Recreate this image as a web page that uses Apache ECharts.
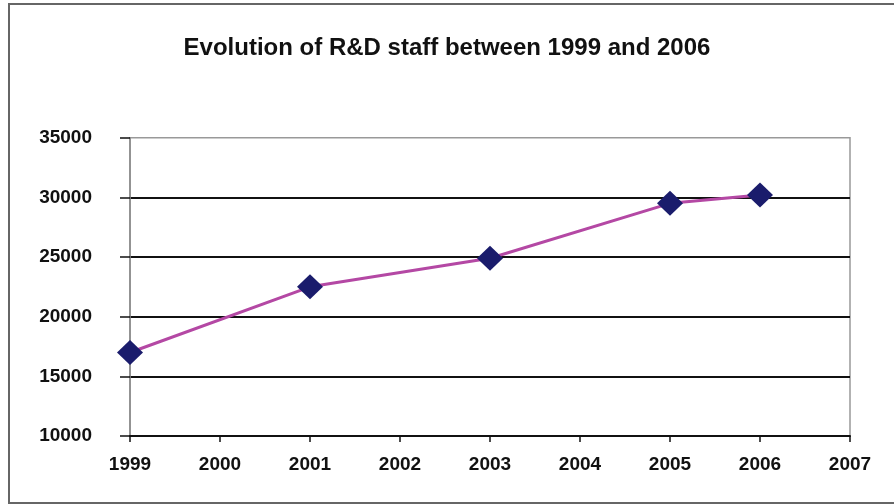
<!DOCTYPE html>
<html>
<head>
<meta charset="utf-8">
<script src="https://cdn.jsdelivr.net/npm/echarts@6/dist/echarts.min.js"></script>
<style>
html,body{margin:0;padding:0;background:#fff;}
#chart{width:894px;height:504px;}
</style>
</head>
<body>
<div id="chart"></div>
<script>
var titleText = 'Evolution of R&D staff between 1999 and 2006';
var years = [1999, 2001, 2003, 2005, 2006];
var staff = [17000, 22500, 24900, 29500, 30200];
var xMin = 1999, xMax = 2007, xStep = 1;
var yMin = 10000, yMax = 35000, yStep = 5000;

var seriesData = years.map(function (y, i) { return [y, staff[i]]; });

var chart = echarts.init(document.getElementById('chart'));
chart.setOption({
  animation: false,
  backgroundColor: '#fff',
  title: {
    text: titleText,
    left: 'center',
    top: 31,
    textStyle: { fontFamily: 'Liberation Sans, Arial, sans-serif', fontWeight: 'bold', fontSize: 24, color: '#111' }
  },
  graphic: [{
    type: 'rect',
    shape: { x: 9, y: 4, width: 900, height: 499 },
    style: { fill: 'none', stroke: '#666', lineWidth: 2 },
    silent: true
  }],
  grid: {
    left: 130, right: 44, top: 137.7, bottom: 68,
    show: true, borderColor: '#999', borderWidth: 1.5, backgroundColor: 'transparent'
  },
  xAxis: {
    type: 'value',
    min: xMin, max: xMax, interval: xStep,
    axisLine: { show: true, onZero: false, lineStyle: { color: '#111', width: 2 } },
    axisTick: { show: true, length: 6, lineStyle: { color: '#111', width: 1.5 } },
    axisLabel: {
      margin: 19,
      formatter: function (v) { return String(v); },
      fontFamily: 'Liberation Sans, Arial, sans-serif', fontWeight: 'bold', fontSize: 19, color: '#111'
    },
    splitLine: { show: false }
  },
  yAxis: {
    type: 'value',
    min: yMin, max: yMax, interval: yStep,
    axisLine: { show: true, lineStyle: { color: '#888', width: 1.5 } },
    axisTick: { show: true, length: 10, lineStyle: { color: '#111', width: 1.5 } },
    axisLabel: {
      margin: 38,
      formatter: function (v) { return String(v); },
      fontFamily: 'Liberation Sans, Arial, sans-serif', fontWeight: 'bold', fontSize: 19, color: '#111'
    },
    splitLine: { show: true, showMaxLine: false, showMinLine: false, lineStyle: { color: '#111', width: 2 } }
  },
  series: [{
    type: 'line',
    data: seriesData,
    symbol: 'diamond',
    symbolSize: [26, 25],
    itemStyle: { color: '#1a1c6c' },
    lineStyle: { color: '#b448a4', width: 3 },
    z: 5
  }]
});
</script>
</body>
</html>
